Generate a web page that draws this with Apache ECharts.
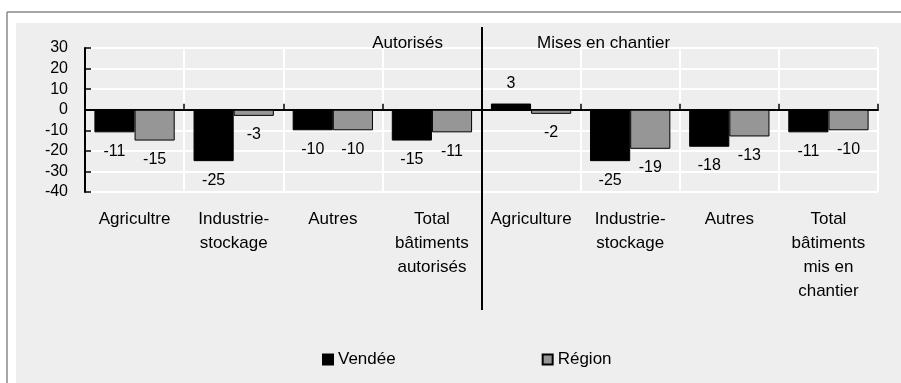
<!DOCTYPE html>
<html><head><meta charset="utf-8">
<script src="https://cdn.jsdelivr.net/npm/echarts@6/dist/echarts.min.js"></script>
<style>html,body{margin:0;padding:0;background:#fff}#c{width:901px;height:383px}</style>
</head><body><div id="c"></div>
<script>
// ---- data ----
const categories = ["Agricultre", "Industrie-\nstockage", "Autres", "Total\nbâtiments\nautorisés",
                    "Agriculture", "Industrie-\nstockage", "Autres", "Total\nbâtiments\nmis en\nchantier"];
const vendee = [-11, -25, -10, -15, 3, -25, -18, -11];
const region = [-15, -3, -10, -11, -2, -19, -13, -10];
const seriesNames = ["Vendée", "Région"];
const sectionTitles = ["Autorisés", "Mises en chantier"];
const yMin = -40, yMax = 30, yStep = 10;

const FONT = '"Liberation Sans", Arial, sans-serif';
const chart = echarts.init(document.getElementById('c'), null, {renderer: 'canvas'});

function withLabels(arr) {
  return arr.map(v => ({
    value: v,
    label: {position: v < 0 ? 'bottom' : 'top', distance: v < 0 ? 11 : 12}
  }));
}
const labelStyle = {show: true, color: '#000', fontSize: 16, fontFamily: FONT};

chart.setOption({
  animation: false,
  backgroundColor: '#eeeeee',
  grid: {left: 85, right: 23, top: 48, bottom: 191, containLabel: false},
  legend: {
    data: seriesNames,
    left: 322, top: 351, padding: 0,
    icon: 'rect', itemWidth: 10, itemHeight: 10, itemGap: 146,
    textStyle: {color: '#000', fontSize: 17, fontFamily: FONT}
  },
  xAxis: [
    {
      type: 'category', data: categories, position: 'bottom', boundaryGap: true,
      axisLine: {show: false, onZero: false},
      axisTick: {show: false},
      axisLabel: {interval: 0, color: '#000', fontSize: 17, fontFamily: FONT, lineHeight: 24, margin: 15, align: 'center'},
      splitLine: {show: true, interval: 0, lineStyle: {color: '#ffffff', width: 2}}
    },
    {
      type: 'category', data: categories, position: 'top', boundaryGap: true,
      axisLine: {show: true, onZero: true, lineStyle: {color: '#000', width: 2}},
      axisTick: {show: true, inside: false, length: 6, interval: 0, lineStyle: {color: '#000', width: 1.5}},
      axisLabel: {show: false},
      splitLine: {show: false}
    }
  ],
  yAxis: {
    type: 'value', min: yMin, max: yMax, interval: yStep,
    axisLine: {show: true, onZero: false, lineStyle: {color: '#000', width: 2}},
    axisTick: {show: true, inside: true, length: 6, lineStyle: {color: '#000', width: 1.5}},
    axisLabel: {color: '#000', fontSize: 16, fontFamily: FONT, margin: 17},
    splitLine: {show: true, lineStyle: {color: '#ffffff', width: 2}}
  },
  series: [
    {
      name: seriesNames[0], type: 'bar', xAxisIndex: 0, data: withLabels(vendee),
      barGap: '0%', barCategoryGap: '19%',
      itemStyle: {color: '#000000', borderColor: '#000', borderWidth: 1},
      label: labelStyle
    },
    {
      name: seriesNames[1], type: 'bar', xAxisIndex: 0, data: withLabels(region),
      barGap: '0%', barCategoryGap: '19%',
      itemStyle: {color: '#969696', borderColor: '#000', borderWidth: 1},
      label: labelStyle
    }
  ],
  graphic: [
    {id: 'wTop', type: 'rect', silent: true, shape: {x: 0, y: 0, width: 901, height: 23}, style: {fill: '#ffffff'}},
    {id: 'wLeft', type: 'rect', silent: true, shape: {x: 0, y: 0, width: 16, height: 383}, style: {fill: '#ffffff'}},
    {id: 'fTop', type: 'line', silent: true, shape: {x1: 7, y1: 12, x2: 901, y2: 12}, style: {stroke: '#8a8a8a', lineWidth: 1.5}},
    {id: 'fLeft', type: 'line', silent: true, shape: {x1: 7, y1: 12, x2: 7, y2: 383}, style: {stroke: '#8a8a8a', lineWidth: 1.5}}
  ]
});

// separator between the two sections, placed from the axis scale
const half = categories.length / 2;
const xa = chart.convertToPixel({xAxisIndex: 0}, half - 1);
const xb = chart.convertToPixel({xAxisIndex: 0}, half);
const sepX = Math.round((xa + xb) / 2);
const yTop = chart.convertToPixel({yAxisIndex: 0}, yMax);
chart.setOption({
  graphic: [
    {id: 'sep', type: 'line', z: 50, silent: true, shape: {x1: sepX, y1: 27, x2: sepX, y2: 310}, style: {stroke: '#000', lineWidth: 2}},
    {id: 't1', type: 'text', z: 50, silent: true, x: sepX - 39, y: yTop - 5,
     style: {text: sectionTitles[0], fill: '#000', font: '17px ' + FONT, textAlign: 'right', textVerticalAlign: 'middle'}},
    {id: 't2', type: 'text', z: 50, silent: true, x: sepX + 55, y: yTop - 5,
     style: {text: sectionTitles[1], fill: '#000', font: '17px ' + FONT, textAlign: 'left', textVerticalAlign: 'middle'}}
  ]
});
</script>
</body></html>
